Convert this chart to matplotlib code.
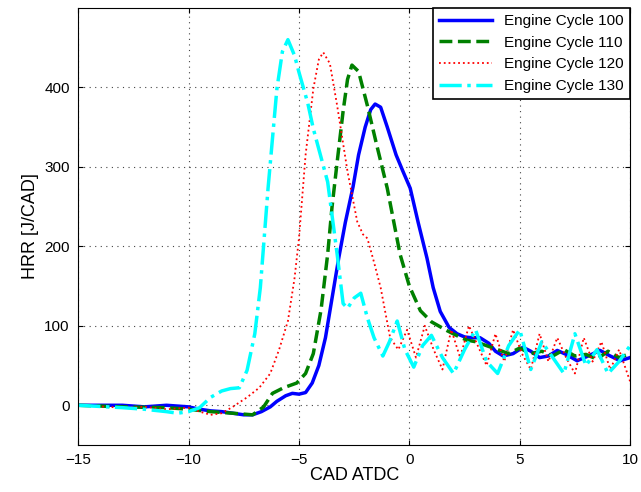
import numpy as np
import matplotlib.pyplot as plt

plt.rcParams['font.family'] = ['Liberation Sans', 'DejaVu Sans']

# Values
x100 = [-15, -13, -12, -11, -10, -9.5, -9, -8.5, -8, -7.5, -7.1, -6.7, -6.3, -6.0, -5.6, -5.3, -5.0, -4.7, -4.4, -4.1, -3.8, -3.5, -3.2, -2.9, -2.55, -2.3, -2.0, -1.75, -1.55, -1.3, -1.0, -0.6, -0.3, 0.04, 0.4, 0.8, 1.08, 1.4, 1.8, 2.16, 2.5, 2.8, 3.2, 3.6, 3.9, 4.25, 4.7, 5.15, 5.5, 5.9, 6.3, 6.7, 7.1, 7.6, 8.1, 8.64, 9.1, 9.55, 10]
y100 = [0, 0, -2, 0, -2, -5, -7, -8, -10, -12, -12, -8, -2, 5, 12, 15, 14, 16, 28, 50, 85, 135, 185, 230, 275, 315, 350, 372, 379, 375, 350, 315, 295, 273, 230, 185, 148, 118, 98, 90, 86, 85, 85, 78, 68, 62, 65, 73, 68, 60, 62, 69, 64, 56, 62, 69, 62, 56, 60]

x110 = [-15, -13, -11, -10, -9, -8, -7.1, -6.6, -6.2, -5.7, -5.1, -4.7, -4.35, -4.0, -3.7, -3.5, -3.27, -3.0, -2.8, -2.6, -2.3, -1.9, -1.5, -1.0, -0.7, -0.42, 0.0, 0.5, 1.0, 1.7, 2.2, 2.6, 3.0, 3.5, 4.0, 4.5, 5.0, 5.5, 6.0, 6.5, 7.0, 7.5, 8.0, 8.5, 9.0, 9.5, 10]
y110 = [0, -2, -3, -5, -8, -10, -12, -2, 15, 22, 28, 40, 65, 120, 190, 250, 306, 370, 410, 428, 420, 377, 330, 273, 230, 190, 150, 119, 105, 94, 87, 82, 80, 75, 70, 65, 72, 65, 68, 62, 70, 62, 64, 58, 68, 60, 65]

x120 = [-15, -13, -12, -11, -10, -9.5, -9, -8.5, -8, -7.35, -6.8, -6.3, -5.9, -5.5, -5.2, -5.0, -4.7, -4.35, -4.1, -3.9, -3.6, -3.27, -2.8, -2.36, -2.1, -1.9, -1.6, -1.3, -0.87, -0.5, -0.1, 0.3, 0.7, 1.1, 1.5, 1.9, 2.3, 2.7, 3.1, 3.5, 3.9, 4.3, 4.7, 5.1, 5.5, 5.9, 6.3, 6.7, 7.1, 7.5, 7.9, 8.3, 8.7, 9.1, 9.5, 10]
y120 = [0, -3, -2, -5, -3, -8, -12, -10, -2, 10, 22, 40, 70, 106, 160, 210, 315, 398, 435, 444, 430, 377, 294, 231, 215, 210, 180, 148, 85, 70, 95, 60, 100, 70, 45, 95, 60, 100, 75, 50, 90, 55, 95, 65, 45, 90, 55, 85, 60, 40, 85, 55, 80, 45, 70, 30]

x130 = [-15, -13, -12, -11, -10.5, -10, -9.5, -9.0, -8.5, -8.1, -7.7, -7.35, -7.0, -6.75, -6.4, -6.0, -5.75, -5.5, -5.2, -5.0, -4.6, -4.35, -3.7, -3.27, -3.0, -2.8, -2.5, -2.2, -1.9, -1.6, -1.2, -0.9, -0.55, -0.2, 0.2, 0.6, 1.0, 1.5, 2.0, 2.5, 3.0, 3.5, 4.0, 4.5, 5.0, 5.5, 6.0, 6.5, 7.0, 7.5, 8.0, 8.5, 9.0, 9.5, 10]
y130 = [0, -3, -5, -8, -10, -8, -3, 10, 18, 21, 22, 44, 90, 148, 273, 398, 445, 460, 440, 419, 380, 348, 281, 190, 128, 122, 135, 141, 110, 85, 62, 80, 106, 70, 48, 75, 88, 60, 40, 70, 95, 55, 40, 75, 95, 45, 80, 60, 40, 90, 50, 70, 40, 55, 75]

fig = plt.figure(figsize=(6.41, 4.92), dpi=100)
ax = fig.add_axes([0.122, 0.0955, 0.861, 0.8885])

ax.plot(x100, y100, '-', color='#0000ff', lw=2.5, label='Engine Cycle 100')
ax.plot(x110, y110, '--', color='#008000', lw=2.5, label='Engine Cycle 110')
ax.plot(x120, y120, ':', color='#ff0000', lw=1.3, label='Engine Cycle 120')
ax.plot(x130, y130, '-.', color='#00ffff', lw=2.5, label='Engine Cycle 130')

ax.set_xlim(-15, 10)
ax.set_ylim(-50, 500)
ax.set_xticks([-15, -10, -5, 0, 5, 10])
ax.set_yticks([0, 100, 200, 300, 400])
ax.grid(True, linestyle=(0, (1, 4)), color='#444444', lw=0.8)
ax.tick_params(direction='in', labelsize=11, top=True, right=True, pad=6)
ax.set_xlabel('CAD ATDC', fontsize=13, labelpad=0)
ax.set_ylabel('HRR [J/CAD]', fontsize=13)
leg = ax.legend(loc='upper right', fontsize=11, fancybox=False, framealpha=1,
                edgecolor='black', borderaxespad=0, handlelength=3.5)
leg.get_frame().set_linewidth(1.2)

fig.savefig('out.png')
